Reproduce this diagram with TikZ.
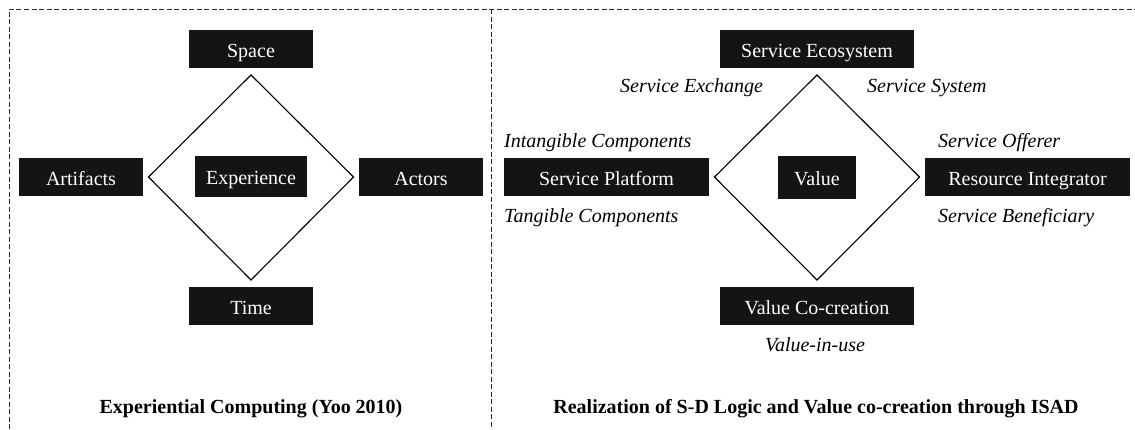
\documentclass[tikz,border=0pt]{standalone}
\usepackage{fontspec}
\setmainfont{Liberation Serif}
\definecolor{boxfill}{HTML}{141414}
\definecolor{frame}{HTML}{2A2A2A}
\begin{document}
\begin{tikzpicture}[x=1pt,y=-1pt,
  every node/.style={font=\fontsize{20}{24}\selectfont},
  blackbox/.style={fill=boxfill,text=white,inner sep=0pt,minimum height=38pt,text height=17pt,text depth=1pt},
  lbl/.style={anchor=base west,inner sep=0pt,font=\fontsize{20}{24}\selectfont\itshape},
  ttl/.style={anchor=base,inner sep=0pt,font=\fontsize{20}{24}\selectfont\bfseries},
  framedash/.style={draw=frame,line width=1pt,dash pattern=on 5pt off 2.5pt},
  diam/.style={draw=black,line width=1.1pt,line join=miter}]
\useasboundingbox (0,0) rectangle (1135,429);
% frame
\coordinate (f1) at (9,429);
\coordinate (f2) at (9,9);
\coordinate (f3) at (1135,9);
\coordinate (d1) at (491,9);
\coordinate (d2) at (491,429);
\draw[framedash] (f1) -- (f2) -- (f3);
\draw[framedash] (d1) -- (d2);
% left panel
\node[blackbox,minimum width=124pt] (space) at (251,49) {Space};
\node[blackbox,minimum width=124pt] (artifacts) at (81,177) {Artifacts};
\node[blackbox,minimum width=112pt,minimum height=41pt] (experience) at (251,176.5) {Experience};
\node[blackbox,minimum width=124pt] (actors) at (421,177) {Actors};
\node[blackbox,minimum width=124pt] (time) at (251,306) {Time};
\coordinate (lt) at (251,75);
\coordinate (lr) at (353.5,177);
\coordinate (lb) at (251,280);
\coordinate (ll) at (148.5,177);
\draw[diam] (lt) -- (lr) -- (lb) -- (ll) -- cycle;
\node[ttl] (ltitle) at (251,413) {Experiential Computing (Yoo 2010)};
% right panel
\node[blackbox,minimum width=194pt] (eco) at (817,49) {Service Ecosystem};
\node[blackbox,minimum width=205pt] (platform) at (606.5,177) {Service Platform};
\node[blackbox,minimum width=78pt,minimum height=43pt] (value) at (817,177.5) {Value};
\node[blackbox,minimum width=205pt] (integrator) at (1027.5,177) {Resource Integrator};
\node[blackbox,minimum width=194pt] (cocreation) at (817,306) {Value Co-creation};
\coordinate (rt) at (817,75);
\coordinate (rr) at (919.5,177);
\coordinate (rb) at (817,280);
\coordinate (rl) at (714.5,177);
\draw[diam] (rt) -- (rr) -- (rb) -- (rl) -- cycle;
\node[lbl] (exch) at (620,92) {Service Exchange};
\node[lbl] (sys) at (867,92) {Service System};
\node[lbl] (intang) at (504,147) {Intangible Components};
\node[lbl] (tang) at (504,222) {Tangible Components};
\node[lbl] (offerer) at (938,147) {Service Offerer};
\node[lbl] (benef) at (938,222) {Service Beneficiary};
\node[lbl,anchor=base] (inuse) at (815,351) {Value-in-use};
\node[ttl] (rtitle) at (816,413) {Realization of S-D Logic and Value co-creation through ISAD};
\end{tikzpicture}
\end{document}
